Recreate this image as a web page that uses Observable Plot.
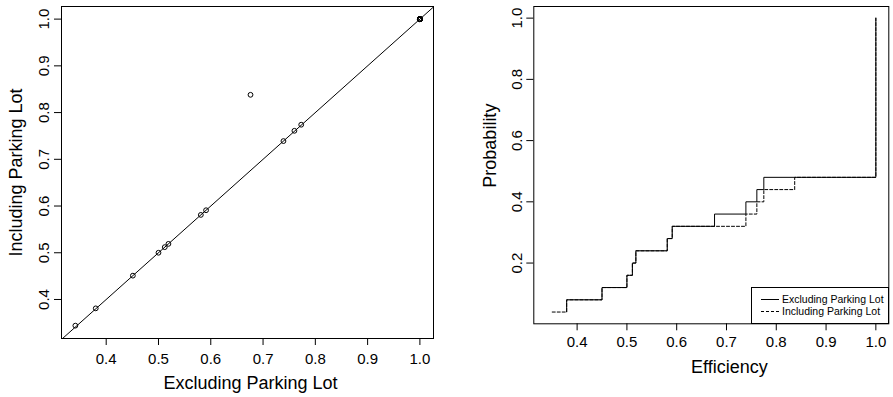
<!DOCTYPE html>
<html><head><meta charset="utf-8">
<script src="https://cdn.jsdelivr.net/npm/d3@7"></script>
<script src="https://cdn.jsdelivr.net/npm/@observablehq/plot@0.6"></script>
<style>
body{margin:0;background:#fff;font-family:"Liberation Sans",Arial,Helvetica,sans-serif;}
#wrap{position:relative;width:893px;height:397px;display:flex;overflow:hidden;background:#fff;}
#wrap svg{display:block;}
#legend{position:absolute;left:750.5px;top:286.5px;width:138px;height:37px;box-sizing:border-box;border:1px solid #000;background:#fff;font-size:10.5px;color:#000;}
.row{position:absolute;left:0;height:12px;line-height:12px;white-space:nowrap;}
.key{position:absolute;left:9px;top:6px;width:18px;height:0;border-top:1px solid #000;}
.key.dash{border-top:1px dashed #000;}
.lab{position:absolute;left:30.5px;top:0;}
</style></head><body>
<div id="wrap"></div>
<script>
// Scatter: efficiency of each unit, excluding vs including the parking lot
const excludingEff = [0.341, 0.380, 0.451, 0.500, 0.512, 0.519, 0.581, 0.591, 0.676, 0.739, 0.760, 0.773,
  1, 1, 1, 1, 1, 1, 1, 1, 1, 1, 1, 1, 1];
const includingEff = [0.344, 0.381, 0.451, 0.500, 0.512, 0.519, 0.581, 0.591, 0.838, 0.739, 0.761, 0.774,
  1, 1, 1, 1, 1, 1, 1, 1, 1, 1, 1, 1, 1];
const diagonal = [0.30, 1.05];

// Empirical distribution (step) lines
const cdfExclEff  = [0.379, 0.379, 0.450, 0.500, 0.511, 0.518, 0.581, 0.591, 0.676, 0.739, 0.761, 0.775, 1.0];
const cdfExclProb = [0.04, 0.08, 0.12, 0.16, 0.20, 0.24, 0.28, 0.32, 0.36, 0.40, 0.44, 0.48, 1.00];
const cdfInclEff  = [0.350, 0.379, 0.450, 0.500, 0.511, 0.518, 0.581, 0.591, 0.739, 0.761, 0.775, 0.837, 1.0];
const cdfInclProb = [0.04, 0.08, 0.12, 0.16, 0.20, 0.24, 0.28, 0.32, 0.36, 0.40, 0.44, 0.48, 1.00];

// Ticks and labels
const leftXTicks = [0.4, 0.5, 0.6, 0.7, 0.8, 0.9, 1.0];
const leftYTicks = [0.4, 0.5, 0.6, 0.7, 0.8, 0.9, 1.0];
const rightXTicks = [0.4, 0.5, 0.6, 0.7, 0.8, 0.9, 1.0];
const rightYTicks = [0.2, 0.4, 0.6, 0.8, 1.0];
const leftXLabel = "Excluding Parking Lot";
const leftYLabel = "Including Parking Lot";
const rightXLabel = "Efficiency";
const rightYLabel = "Probability";
const seriesNames = ["Excluding Parking Lot", "Including Parking Lot"];

const fmt = d3.format(".1f");
const font = "Liberation Sans, Arial, Helvetica, sans-serif";

const pairs = excludingEff.map((x, i) => ({x, y: includingEff[i]}));
const exclLine = cdfExclEff.map((x, i) => ({x, p: cdfExclProb[i]}));
const inclLine = cdfInclEff.map((x, i) => ({x, p: cdfInclProb[i]}));

const left = Plot.plot({
  width: 446, height: 397,
  marginLeft: 61, marginRight: 13, marginTop: 6, marginBottom: 59,
  style: {fontFamily: font, fontSize: "15px", color: "#000", background: "#fff", overflow: "visible"},
  x: {domain: [0.3145, 1.026]},
  y: {domain: [0.3165, 1.027]},
  marks: [
    Plot.line(diagonal, {x: d => d, y: d => d, stroke: "#000", strokeWidth: 1, clip: true}),
    Plot.dot(pairs, {x: "x", y: "y", r: 2.4, stroke: "#000", strokeWidth: 1, fill: "none"}),
    Plot.frame({stroke: "#000", strokeWidth: 1}),
    Plot.axisX(leftXTicks, {tickSize: 7, tickPadding: 8, tickFormat: fmt, label: null, fontSize: 15}),
    Plot.axisY(leftYTicks, {tickSize: 7, tickPadding: 6, tickRotate: -90, tickFormat: fmt, label: null, fontSize: 15}),
    Plot.text([leftXLabel], {text: d => d, frameAnchor: "bottom", dy: 45, dx: 3, textAnchor: "middle", lineAnchor: "middle", fontSize: 18}),
    Plot.text([leftYLabel], {text: d => d, frameAnchor: "left", dx: -45, rotate: -90, textAnchor: "middle", lineAnchor: "middle", fontSize: 18})
  ]
});

const right = Plot.plot({
  width: 447, height: 397,
  marginLeft: 87.3, marginRight: 4.7, marginTop: 6, marginBottom: 73.7,
  style: {fontFamily: font, fontSize: "15px", color: "#000", background: "#fff", overflow: "visible"},
  x: {domain: [0.313, 1.026]},
  y: {domain: [0.0016, 1.038]},
  marks: [
    Plot.line(exclLine, {x: "x", y: "p", curve: "step-after", stroke: "#000", strokeWidth: 1}),
    Plot.line(inclLine, {x: "x", y: "p", curve: "step-after", stroke: "#000", strokeWidth: 1, strokeDasharray: "3,2"}),
    Plot.frame({stroke: "#000", strokeWidth: 1}),
    Plot.axisX(rightXTicks, {tickSize: 7, tickPadding: 6, tickFormat: fmt, label: null, fontSize: 15}),
    Plot.axisY(rightYTicks, {tickSize: 7, tickPadding: 5, tickRotate: -90, tickFormat: fmt, label: null, fontSize: 15}),
    Plot.text([rightXLabel], {text: d => d, frameAnchor: "bottom", dy: 43.5, dx: 18, textAnchor: "middle", lineAnchor: "middle", fontSize: 18}),
    Plot.text([rightYLabel], {text: d => d, frameAnchor: "left", dx: -43.5, dy: -19.5, rotate: -90, textAnchor: "middle", lineAnchor: "middle", fontSize: 18})
  ]
});

const wrap = document.getElementById("wrap");
wrap.appendChild(left);
wrap.appendChild(right);

const legend = document.createElement("div");
legend.id = "legend";
seriesNames.forEach((name, i) => {
  const row = document.createElement("div");
  row.className = "row";
  row.style.top = (5.5 + i * 12.3) + "px";
  row.style.width = "100%";
  const key = document.createElement("span");
  key.className = "key" + (i === 1 ? " dash" : "");
  const lab = document.createElement("span");
  lab.className = "lab";
  lab.textContent = name;
  row.appendChild(key);
  row.appendChild(lab);
  legend.appendChild(row);
});
wrap.appendChild(legend);
</script>
</body></html>
